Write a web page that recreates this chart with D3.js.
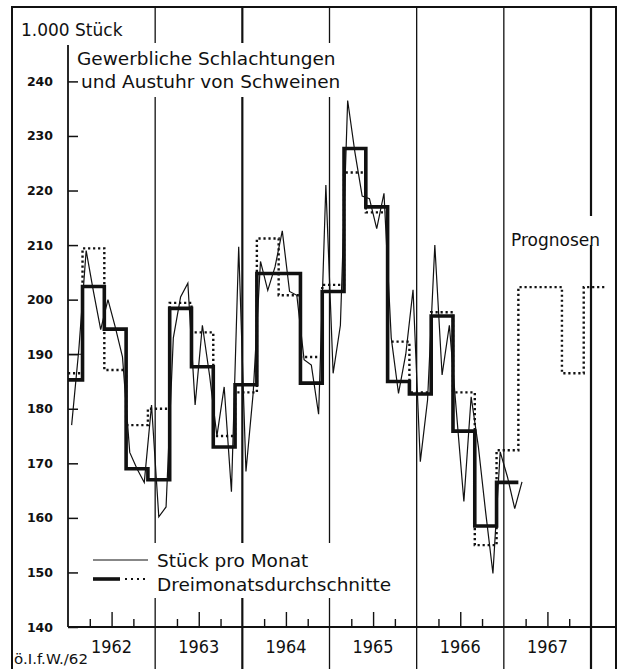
<!DOCTYPE html>
<html><head><meta charset="utf-8">
<script src="https://cdn.jsdelivr.net/npm/d3@7"></script>
<style>
html,body{margin:0;padding:0;background:#fff;}
svg{display:block;}
text{font-family:"DejaVu Sans",sans-serif;fill:#111;}
</style></head><body>
<svg id="c" width="618" height="669"></svg>
<script>
// ---- data (1.000 Stück) ----
// monthly values Jan 1962 .. Mar 1967
const monthly1962 = [177, 191, 209, 201.5, 194.5, 200, 195, 189.5, 172, 169, 166.5, 180.7];
const monthly1963 = [160.2, 162, 193, 200.5, 203, 180.7, 195.3, 186, 175, 184, 164.8, 209.7];
const monthly1964 = [168.5, 183, 207, 201.7, 206, 212.6, 201.5, 200.8, 189, 188, 179, 221];
const monthly1965 = [186.5, 195.3, 236.5, 227, 219, 218.5, 213, 219.5, 193, 182.8, 190, 201.8];
const monthly1966 = [170.3, 181.6, 210, 186.2, 195.3, 179, 163, 182.2, 173, 161, 149.8, 172.1];
const monthly1967 = [167.5, 161.7, 166.6];
// three-month averages, quarters Dec–Feb, Mar–May, Jun–Aug, Sep–Nov, from Dec61–Feb62
const quarterAvg = [185.3, 202.4, 194.6, 169, 167, 198.4, 187.7, 173, 184.4, 204.8, 204.8, 184.7,
                    201.5, 227.7, 217, 185, 182.7, 197, 175.9, 158.5, 166.5];
// forecasts (dotted), same quarters, through Dec67–Feb68
const forecast = [186.5, 209.4, 187.1, 177, 180, 199.4, 194, 175, 183, 211.2, 200.8, 189.5,
                  202.7, 223.3, 216, 192.3, 183, 197.7, 183, 155, 172.4, 202.3, 202.3, 186.5, 202.3];
const earlierAvg = [190, 185.3];
const years = ["1962", "1963", "1964", "1965", "1966", "1967"];
const yTicks = [140, 150, 160, 170, 180, 190, 200, 210, 220, 230, 240];
const legendLabels = ["Stück pro Monat", "Dreimonatsdurchschnitte"];
const titleLines = ["Gewerbliche Schlachtungen", "und Austuhr von Schweinen"];
const unitLabel = "1.000 Stück";
const forecastLabel = "Prognosen";
const sourceLabel = "ö.I.f.W./62";

const monthly = [].concat(monthly1962, monthly1963, monthly1964, monthly1965, monthly1966, monthly1967);

// ---- layout ----
const svg = d3.select("#c");
const INK = "#111";
const x = d3.scaleLinear().domain([0, 72]).range([68, 591]);
const y = d3.scaleLinear().domain([140, 240]).range([627, 81.4]);
const AX_TOP = 45, FRAME_TOP = 7, BOTTOM = 669, RIGHT = 616, LEFT = 12;

svg.append("rect").attr("width", 618).attr("height", 669).attr("fill", "#fff");

// frame
svg.append("path").attr("d", `M${LEFT},${BOTTOM} V${FRAME_TOP} H${RIGHT} V${BOTTOM}`)
  .attr("fill", "none").attr("stroke", INK).attr("stroke-width", 2);

// year separator lines
const yearIdx = d3.range(1, years.length + 1);
svg.append("g").selectAll("line").data(yearIdx).join("line")
  .attr("x1", d => x(d * 12)).attr("x2", d => x(d * 12))
  .attr("y1", FRAME_TOP).attr("y2", BOTTOM)
  .attr("stroke", INK)
  .attr("stroke-width", d => (d === 2 || d === 6) ? 2.2 : 1.3);

// white masks behind text blocks
svg.append("rect").attr("x", 75).attr("y", 43).attr("width", 264).attr("height", 54).attr("fill", "#fff");
svg.append("rect").attr("x", 86).attr("y", 543).attr("width", 314).attr("height", 55).attr("fill", "#fff");
svg.append("rect").attr("x", 509).attr("y", 216).attr("width", 98).attr("height", 29).attr("fill", "#fff");

// y axis
svg.append("line").attr("x1", x(0)).attr("x2", x(0)).attr("y1", y(140)).attr("y2", AX_TOP)
  .attr("stroke", INK).attr("stroke-width", 1.8);
const yAxis = d3.axisLeft(y).tickValues(yTicks).tickSizeInner(-10).tickSizeOuter(0).tickPadding(15);
const gy = svg.append("g").attr("transform", `translate(${x(0)},0)`).call(yAxis);
gy.select(".domain").remove();
gy.selectAll(".tick line").attr("stroke", INK).attr("stroke-width", 1.5);
gy.selectAll(".tick text").attr("font-family", "DejaVu Sans").attr("font-size", 12.5)
  .attr("font-weight", "bold").attr("fill", INK);

// x axis
const xTickVals = [];
years.forEach((_, i) => { [3, 6, 9].forEach(m => xTickVals.push(i * 12 + m)); });
const xAxis = d3.axisBottom(x).tickValues(xTickVals).tickSizeInner(-8).tickSizeOuter(0).tickFormat("");
const gx = svg.append("g").attr("transform", `translate(0,${y(140)})`).call(xAxis);
gx.select(".domain").remove();
gx.selectAll(".tick line").attr("stroke", INK).attr("stroke-width", 1.4)
  .attr("y2", d => (d % 12 === 6) ? -15 : -8);
svg.append("line").attr("x1", x(0)).attr("x2", RIGHT).attr("y1", y(140)).attr("y2", y(140))
  .attr("stroke", INK).attr("stroke-width", 2);

// year labels
svg.append("g").selectAll("text").data(years).join("text")
  .attr("x", (d, i) => x(i * 12 + 6)).attr("y", 653)
  .attr("text-anchor", "middle").attr("font-size", 18)
  .attr("textLength", 41).attr("lengthAdjust", "spacingAndGlyphs")
  .text(d => d);

// ---- marks ----
const stepLine = d3.line().x(d => x(d[0])).y(d => y(d[1])).curve(d3.curveStepAfter);
function quarterSteps(vals) {
  const pts = vals.map((v, i) => [Math.max(0, -1 + 3 * i), v]);
  pts.push([-1 + 3 * vals.length, vals[vals.length - 1]]);
  return pts;
}

// earlier thin step
svg.append("path").attr("d", stepLine([[0, earlierAvg[0]], [2, earlierAvg[1]]]))
  .attr("fill", "none").attr("stroke", INK).attr("stroke-width", 1.1);

// forecasts dotted
svg.append("path").attr("d", stepLine(quarterSteps(forecast)))
  .attr("fill", "none").attr("stroke", INK).attr("stroke-width", 2.4)
  .attr("stroke-dasharray", "2.2 2.8");

// monthly thin line
const mLine = d3.line().x((d, i) => x(i + 0.5)).y(d => y(d));
svg.append("path").attr("d", mLine(monthly))
  .attr("fill", "none").attr("stroke", INK).attr("stroke-width", 1.2).attr("stroke-linejoin", "miter");

// three-month averages thick
svg.append("path").attr("d", stepLine(quarterSteps(quarterAvg)))
  .attr("fill", "none").attr("stroke", INK).attr("stroke-width", 3.6).attr("stroke-linejoin", "miter");

// ---- texts ----
svg.append("text").attr("x", 21).attr("y", 36).attr("font-size", 17).text(unitLabel);
svg.append("text").attr("x", 77).attr("y", 65).attr("font-size", 18.5).text(titleLines[0]);
svg.append("text").attr("x", 81).attr("y", 88).attr("font-size", 18.5).text(titleLines[1]);
svg.append("text").attr("x", 511).attr("y", 246).attr("font-size", 17).text(forecastLabel);
svg.append("text").attr("x", 14).attr("y", 664).attr("font-size", 14)
  .attr("textLength", 74).attr("lengthAdjust", "spacingAndGlyphs").text(sourceLabel);

// legend
svg.append("line").attr("x1", 93).attr("x2", 148).attr("y1", 560).attr("y2", 560)
  .attr("stroke", INK).attr("stroke-width", 1.2);
svg.append("line").attr("x1", 93).attr("x2", 120).attr("y1", 579).attr("y2", 579)
  .attr("stroke", INK).attr("stroke-width", 3.6);
svg.append("line").attr("x1", 125).attr("x2", 147).attr("y1", 579).attr("y2", 579)
  .attr("stroke", INK).attr("stroke-width", 2).attr("stroke-dasharray", "2 4");
svg.append("text").attr("x", 157).attr("y", 567).attr("font-size", 18.5).text(legendLabels[0]);
svg.append("text").attr("x", 157).attr("y", 591).attr("font-size", 18.5).text(legendLabels[1]);
</script>
</body></html>
